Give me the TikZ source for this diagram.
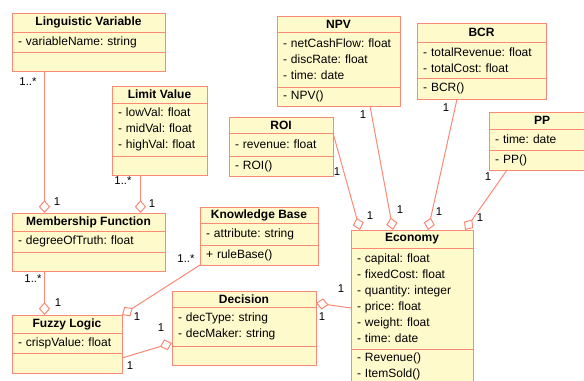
\documentclass[tikz,border=0pt]{standalone}
\usepackage{fontspec}
\setmainfont{Liberation Sans}
\usetikzlibrary{arrows.meta,calc}

\definecolor{umlline}{HTML}{FA8A76}
\definecolor{umlfill}{HTML}{FFFACC}

\tikzset{
  umlhead/.style={draw=umlline, fill=umlfill, line width=0.75pt, outer sep=0pt,
    inner sep=0pt, font=\fontsize{9}{10}\selectfont\bfseries},
  umlbody/.style={draw=umlline, fill=umlfill, line width=0.75pt, outer sep=0pt,
    inner xsep=4.5pt, inner ysep=0pt, align=left,
    font=\fontsize{9}{12}\selectfont\frenchspacing},
  assoc/.style={draw=umlline, line width=0.75pt,
    -{Diamond[length=9.5pt,width=8.5pt,fill=white,line width=0.75pt]}},
  mult/.style={inner sep=0pt, font=\fontsize{8.5}{9}\selectfont}
}

% id, position, width, header / attribute / method heights, title, attributes, methods
\newcommand{\umlclass}[9]{%
  \pgfmathsetmacro\umltw{(#3-12)*0.75}
  \node[umlhead, minimum width=#3*0.75pt, minimum height=#4*0.75pt, anchor=north west] (#1) at #2 {#7};
  \node[umlbody, minimum width=#3*0.75pt, minimum height=#5*0.75pt, text width=\umltw pt, anchor=north] (#1-a) at (#1.south) {#8};
  \node[umlbody, minimum width=#3*0.75pt, minimum height=#6*0.75pt, text width=\umltw pt, anchor=north] (#1-m) at (#1-a.south) {#9};
}

\begin{document}
\begin{tikzpicture}[x=0.75pt, y=-0.75pt]
  \useasboundingbox (0,0) rectangle (584,380);
  \clip (0,0) rectangle (584,380);

  % classes
  \umlclass{lv}{(12,13)}{153}{19}{20}{19}{Linguistic Variable}{- variableName: string}{}
  \umlclass{limv}{(112,86)}{95}{17}{53}{19}{Limit Value}{- lowVal: float\\- midVal: float\\- highVal: float}{}
  \umlclass{mf}{(12,213)}{153}{18}{21}{19}{Membership Function}{- degreeOfTruth: float}{}
  \umlclass{fl}{(12,315)}{110}{18}{20}{20}{Fuzzy Logic}{- crispValue: float}{}
  \umlclass{kb}{(200,207)}{118}{16}{22}{20}{Knowledge Base}{- attribute: string}{+ ruleBase()}
  \umlclass{dec}{(172,291)}{144}{16}{39}{19}{Decision}{- decType: string\\- decMaker: string}{}
  \umlclass{roi}{(229,117)}{104}{16}{23}{20}{ROI}{- revenue: float}{- ROI()}
  \umlclass{npv}{(277,16)}{123}{16}{55}{19}{NPV}{- netCashFlow: float\\- discRate: float\\- time: date}{- NPV()}
  \umlclass{bcr}{(417,23)}{129}{19}{36}{21}{BCR}{- totalRevenue: float\\- totalCost: float}{- BCR()}
  \umlclass{pp}{(489,112)}{106}{17}{21}{20}{PP}{- time: date}{- PP()}
  \umlclass{eco}{(351,230)}{122}{18}{101}{34}{Economy}{- capital: float\\- fixedCost: float\\- quantity: integer\\- price: float\\- weight: float\\- time: date}{- Revenue()\\- ItemSold()}

  % aggregations
  \draw[assoc] ($(lv-m.south west)+(32.5,0)$) -- ($(mf.north west)+(32.5,0)$);
  \draw[assoc] ($(limv-m.south west)+(28.5,0)$) -- ($(mf.north west)+(128.5,0)$);
  \draw[assoc] ($(mf-m.south west)+(32.5,0)$) -- ($(fl.north west)+(32.5,0)$);
  \draw[assoc] (kb-m.south west) -- (fl.north east);
  \draw[assoc] ($(fl-m.north east)+(0,5)$) -- ($(dec-a.south west)+(0,-3)$);
  \draw[assoc] ($(eco-a.north west)+(0,60)$) -- ($(dec.south east)+(0,-4)$);
  \draw[assoc] (roi.south east) -- ($(eco.north west)+(9,0)$);
  \draw[assoc] ($(npv-m.south west)+(93,0)$) -- ($(eco.north west)+(42,0)$);
  \draw[assoc] ($(bcr-m.south west)+(40,0)$) -- ($(eco.north west)+(77,0)$);
  \draw[assoc] ($(pp-m.south west)+(18,0)$) -- ($(eco.north west)+(114,0)$);

  % multiplicities
  \node[mult] (lv-n) at (28,82) {1..*};
  \node[mult] (mf-n1) at (57,202) {1};
  \node[mult] (limv-n) at (123,181) {1..*};
  \node[mult] (mf-n2) at (152,204) {1};
  \node[mult] (mf-n) at (33,279) {1..*};
  \node[mult] (fl-n1) at (58,303) {1};
  \node[mult] (kb-n) at (186,259) {1..*};
  \node[mult] (fl-n2) at (137,317) {1};
  \node[mult] (dec-n1) at (161,328) {1};
  \node[mult] (fl-n3) at (130,366) {1};
  \node[mult] (eco-n0) at (341,289) {1};
  \node[mult] (dec-n2) at (322,317) {1};
  \node[mult] (roi-n) at (337,172) {1};
  \node[mult] (npv-n) at (363,115) {1};
  \node[mult] (bcr-n) at (446,108) {1};
  \node[mult] (pp-n) at (488,177) {1};
  \node[mult] (eco-n1) at (370,216) {1};
  \node[mult] (eco-n2) at (400,210) {1};
  \node[mult] (eco-n3) at (439,212) {1};
  \node[mult] (eco-n4) at (480,218) {1};
\end{tikzpicture}
\end{document}
